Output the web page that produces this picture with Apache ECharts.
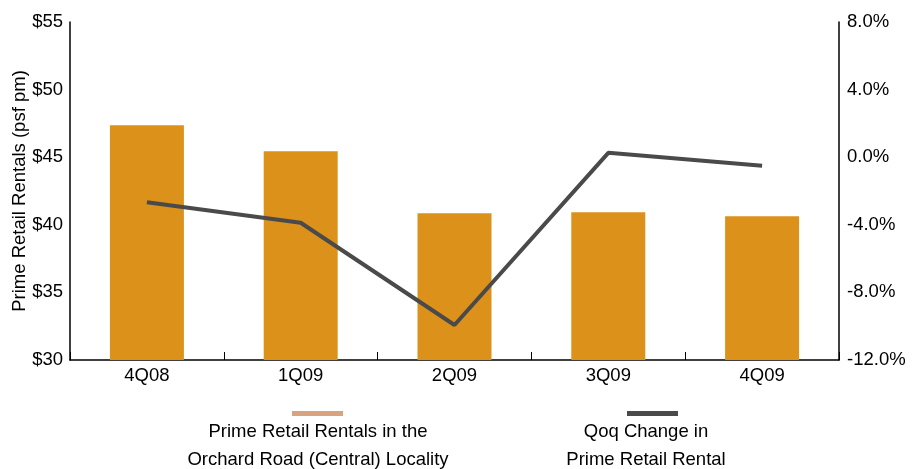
<!DOCTYPE html>
<html>
<head>
<meta charset="utf-8">
<script src="https://cdn.jsdelivr.net/npm/echarts@6/dist/echarts.min.js"></script>
<style>
html,body{margin:0;padding:0;background:#fff;}
#c{width:920px;height:469px;}
</style>
</head>
<body>
<div id="c"></div>
<script>
var categories = ['4Q08', '1Q09', '2Q09', '3Q09', '4Q09'];
var rentals = [47.36, 45.44, 40.86, 40.93, 40.63];
var qoqChange = [-2.67, -3.88, -9.93, 0.26, -0.51];
var leftTicks = [30, 35, 40, 45, 50, 55];
var rightTicks = [-12, -8, -4, 0, 4, 8];

var FONT = '"Liberation Sans", Arial, sans-serif';
var FS = 18.5;
var chart = echarts.init(document.getElementById('c'), null, {renderer: 'canvas'});
chart.setOption({
  animation: false,
  backgroundColor: '#fff',
  textStyle: {fontFamily: FONT},
  grid: {left: 70, right: 81, top: 22, bottom: 109, containLabel: false, outerBoundsMode: 'none'},
  xAxis: {
    type: 'category',
    data: categories,
    boundaryGap: true,
    axisLine: {onZero: false, lineStyle: {color: '#000', width: 1.5}},
    axisTick: {show: true, inside: true, length: 8, lineStyle: {color: '#000'}},
    axisLabel: {color: '#000', fontSize: FS, fontFamily: FONT, margin: 6}
  },
  yAxis: [{
    type: 'value',
    min: leftTicks[0], max: leftTicks[leftTicks.length - 1], interval: 5,
    name: 'Prime Retail Rentals (psf pm)',
    nameLocation: 'middle',
    nameGap: 41,
    nameMoveOverlap: false,
    nameTextStyle: {color: '#000', fontSize: FS, fontFamily: FONT},
    axisLine: {show: true, onZero: false, lineStyle: {color: '#000', width: 1.5}},
    axisTick: {show: false},
    splitLine: {show: false},
    axisLabel: {color: '#000', fontSize: FS, fontFamily: FONT, margin: 7, formatter: function (v) { return '$' + v; }}
  }, {
    type: 'value',
    position: 'right',
    min: rightTicks[0], max: rightTicks[rightTicks.length - 1], interval: 4,
    axisLine: {show: true, onZero: false, lineStyle: {color: '#000', width: 1.5}},
    axisTick: {show: false},
    splitLine: {show: false},
    axisLabel: {color: '#000', fontSize: FS, fontFamily: FONT, margin: 8, formatter: function (v) { return v.toFixed(1) + '%'; }}
  }],
  series: [{
    name: 'Prime Retail Rentals in the Orchard Road (Central) Locality',
    type: 'bar',
    data: rentals,
    yAxisIndex: 0,
    barWidth: 74,
    itemStyle: {color: '#DC921A'}
  }, {
    name: 'Qoq Change in Prime Retail Rental',
    type: 'line',
    data: qoqChange,
    yAxisIndex: 1,
    showSymbol: false,
    symbol: 'none',
    lineStyle: {color: '#4A4A4A', width: 4}
  }],
  graphic: [
    {type: 'rect', shape: {x: 292, y: 411, width: 51, height: 5}, style: {fill: '#D8A47F'}},
    {type: 'text', style: {x: 318, y: 432, text: 'Prime Retail Rentals in the', font: FS + 'px ' + FONT, fill: '#000', textAlign: 'center', textVerticalAlign: 'middle'}},
    {type: 'text', style: {x: 318, y: 460, text: 'Orchard Road (Central) Locality', font: FS + 'px ' + FONT, fill: '#000', textAlign: 'center', textVerticalAlign: 'middle'}},
    {type: 'rect', shape: {x: 627, y: 411, width: 51, height: 5}, style: {fill: '#4A4A4A'}},
    {type: 'text', style: {x: 646, y: 432, text: 'Qoq Change in', font: FS + 'px ' + FONT, fill: '#000', textAlign: 'center', textVerticalAlign: 'middle'}},
    {type: 'text', style: {x: 646, y: 460, text: 'Prime Retail Rental', font: FS + 'px ' + FONT, fill: '#000', textAlign: 'center', textVerticalAlign: 'middle'}}
  ]
});
</script>
</body>
</html>
